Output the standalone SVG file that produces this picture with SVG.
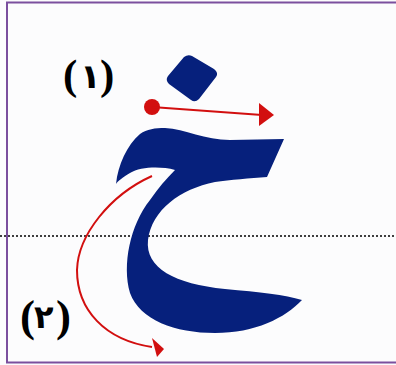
<svg xmlns="http://www.w3.org/2000/svg" width="396" height="365" viewBox="0 0 396 365">
  <style>
    .glyph { fill: #06207c; }
    .stroke { stroke: #d20f0f; stroke-width: 2; fill: none; }
    .head { fill: #d20f0f; }
    .paren { font-family: "Liberation Serif", serif; font-weight: bold; fill: #000; }
    .digit { font-family: "DejaVu Sans", "Noto Sans", sans-serif; font-weight: bold; fill: #000; }
  </style>
  <rect x="0" y="0" width="396" height="365" fill="#fcfcfd"/>
  <rect id="frame" x="7" y="2.5" width="400" height="360" fill="none" stroke="#7b4f9e" stroke-width="2"/>
  <line id="baseline" x1="0" y1="236" x2="396" y2="236" stroke="#000" stroke-width="1.6" stroke-dasharray="2,2"/>

  <g id="letter-khah">
    <path class="glyph" d="M116,184 C118,165 127,145 140,134 C147,129 155,128 165,128 C185,129 205,140 230,140 L284,139 L267,177 C250,178 230,180 215,182 C180,189 152,210 148,240 C145,268 175,284 225,289 C260,292 285,295 302,300 C285,318 255,333 215,333 C175,333 140,320 130,293 C122,265 130,225 150,200 C158,188 167,178 175,170 C160,166 140,167 130,173 C123,177 118,181 116,184 Z"/>
  </g>
  <g id="dot">
    <path class="glyph" d="M184,57 Q188,54 192,56 L214,69 Q219,73 216,77 L199,99 Q195,103 191,100 L169,84 Q165,80 168,76 Z"/>
  </g>

  <g id="label-1">
    <text font-size="43" y="89"><tspan class="paren" x="63">(</tspan><tspan class="digit" font-size="34" x="80" dy="-1">١</tspan><tspan class="paren" x="100" dy="1">)</tspan></text>
  </g>
  <g id="label-2">
    <text font-size="45" y="331"><tspan class="paren" x="20">(</tspan><tspan class="digit" font-size="32" x="34" dy="-3">٢</tspan><tspan class="paren" x="56" dy="3">)</tspan></text>
  </g>

  <g id="connectors">
    <circle class="head" cx="152" cy="107" r="8"/>
    <line class="stroke" x1="152" y1="107" x2="262" y2="115"/>
    <polygon class="head" points="274,115 259,103 259,126"/>
    <path class="stroke" d="M152,176 C110,195 78,235 77,270 C77,310 105,340 152,347"/>
    <polygon class="head" points="164,349 152,338 157,357"/>
  </g>
</svg>
